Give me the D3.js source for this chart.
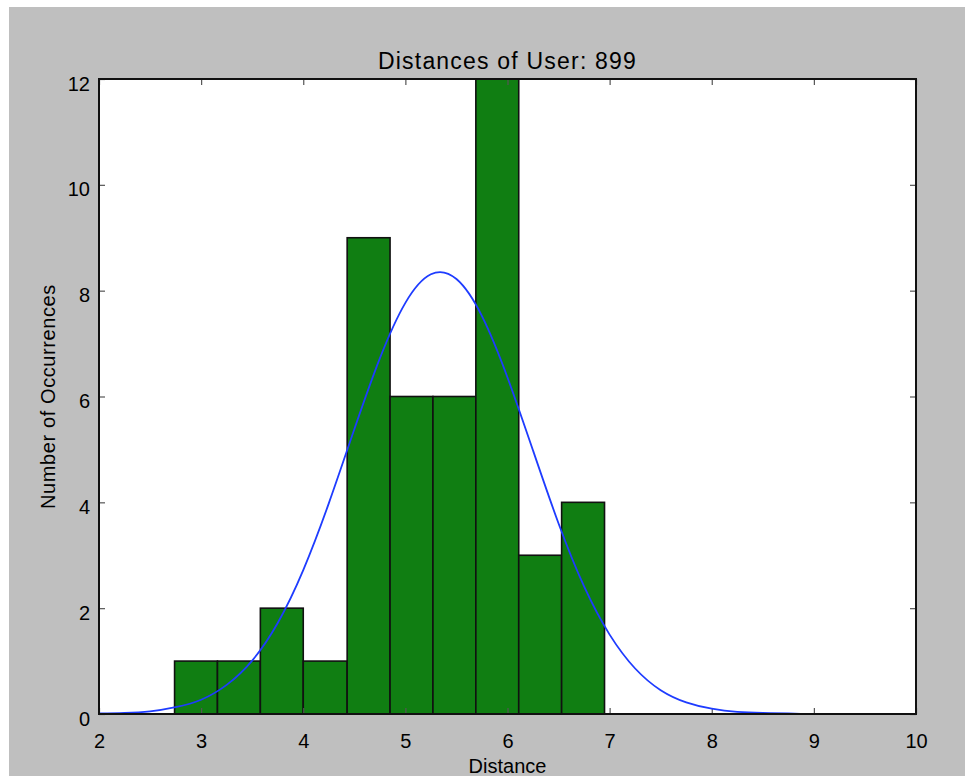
<!DOCTYPE html>
<html lang="en">

<head>
    <meta charset="UTF-8">
    <script src="https://cdn.jsdelivr.net/npm/d3@7"></script>
    <title>Distances of User: 899</title>
    <style>
        body { margin: 0; background: #fff; }
        text { font-family: "Liberation Sans", Arial, sans-serif; fill: #000; }
    </style>
</head>

<body>
    <svg id="main_svg" width="965" height="776"></svg>
    <script>
        // histogram bins (edges) and counts
        var binEdges = [2.74, 3.16, 3.58, 4.00, 4.43, 4.85, 5.27, 5.69, 6.11, 6.53, 6.95];
        var counts = [1, 1, 2, 1, 9, 6, 6, 12, 3, 4];
        // fitted curve
        var curveX = [2.0, 2.25, 2.5, 2.75, 3.0, 3.25, 3.5, 3.75, 4.0, 4.25, 4.5, 4.75, 5.0, 5.25,
            5.5, 5.75, 6.0, 6.25, 6.5, 6.75, 7.0, 7.25, 7.5, 7.75, 8.0, 8.25, 8.5, 8.75, 9.0, 9.25, 9.5, 9.75, 10.0];
        var curveY = [0.01, 0.02, 0.05, 0.13, 0.27, 0.55, 1.01, 1.72, 2.72, 3.98, 5.38, 6.72, 7.77, 8.31,
            8.22, 7.52, 6.36, 4.98, 3.6, 2.41, 1.5, 0.86, 0.45, 0.22, 0.1, 0.04, 0.02, 0.01, 0.0, 0.0, 0.0, 0.0, 0.0];
        var xTicks = [2, 3, 4, 5, 6, 7, 8, 9, 10];
        var yTicks = [0, 2, 4, 6, 8, 10, 12];

        var svg = d3.select("#main_svg");
        // plot box (pixels)
        var pLeft = 99, pRight = 916, pTop = 79, pBottom = 714;

        var x = d3.scaleLinear().domain([2, 10]).range([pLeft, pRight]);
        var y = d3.scaleLinear().domain([0, 12]).range([pBottom, pTop]);

        // figure background
        svg.append("rect")
            .attr("x", 9).attr("y", 7).attr("width", 956).attr("height", 769)
            .attr("fill", "#bfbfbf");

        // plot area
        svg.append("rect")
            .attr("x", pLeft).attr("y", pTop)
            .attr("width", pRight - pLeft).attr("height", pBottom - pTop)
            .attr("fill", "#fff");

        // bars
        svg.append("g").selectAll("rect")
            .data(counts)
            .enter()
            .append("rect")
            .attr("x", function (d, i) { return x(binEdges[i]); })
            .attr("y", function (d) { return y(d); })
            .attr("width", function (d, i) { return x(binEdges[i + 1]) - x(binEdges[i]); })
            .attr("height", function (d) { return y(0) - y(d); })
            .attr("fill", "#107e12")
            .attr("stroke", "#111")
            .attr("stroke-width", 1.6);

        // ticks (inside, mirrored on all sides)
        var tickLen = 6;
        var axB = svg.append("g").attr("transform", "translate(0," + pBottom + ")")
            .call(d3.axisBottom(x).tickValues(xTicks).tickSize(-tickLen).tickPadding(16));
        var axT = svg.append("g").attr("transform", "translate(0," + pTop + ")")
            .call(d3.axisTop(x).tickValues(xTicks).tickSize(-tickLen).tickFormat(""));
        var axL = svg.append("g").attr("transform", "translate(" + pLeft + ",0)")
            .call(d3.axisLeft(y).tickValues(yTicks).tickSize(-tickLen).tickPadding(9));
        var axR = svg.append("g").attr("transform", "translate(" + pRight + ",0)")
            .call(d3.axisRight(y).tickValues(yTicks).tickSize(-tickLen).tickFormat(""));

        [axB, axT, axL, axR].forEach(function (a) {
            a.select(".domain").remove();
            a.selectAll(".tick line").attr("stroke", "#555").attr("stroke-width", 1.2);
            a.selectAll("text").attr("font-size", "20px").attr("font-family", "Liberation Sans, Arial, sans-serif").attr("fill", "#000");
        });
        axB.selectAll("text").attr("dy", "0.9em");
        axL.selectAll("text").attr("dy", "0.55em");

        // fitted curve
        var line = d3.line()
            .x(function (d, i) { return x(curveX[i]); })
            .y(function (d) { return y(d); })
            .curve(d3.curveNatural);
        svg.append("path")
            .attr("d", line(curveY))
            .attr("fill", "none")
            .attr("stroke", "#1e3cff")
            .attr("stroke-width", 1.8);

        // frame
        svg.append("rect")
            .attr("x", pLeft).attr("y", pTop)
            .attr("width", pRight - pLeft).attr("height", pBottom - pTop)
            .attr("fill", "none")
            .attr("stroke", "#111")
            .attr("stroke-width", 2);

        // title and labels
        svg.append("text")
            .attr("x", (pLeft + pRight) / 2).attr("y", 69)
            .attr("text-anchor", "middle")
            .attr("font-size", "23px")
            .attr("letter-spacing", "1.2px")
            .text("Distances of User: 899");

        svg.append("text")
            .attr("x", (pLeft + pRight) / 2).attr("y", 773)
            .attr("text-anchor", "middle")
            .attr("font-size", "20px")
            .text("Distance");

        svg.append("text")
            .attr("transform", "translate(55," + (pTop + pBottom) / 2 + ") rotate(-90)")
            .attr("text-anchor", "middle")
            .attr("font-size", "20px")
            .attr("letter-spacing", "0.6px")
            .text("Number of Occurrences");
    </script>
</body>

</html>
